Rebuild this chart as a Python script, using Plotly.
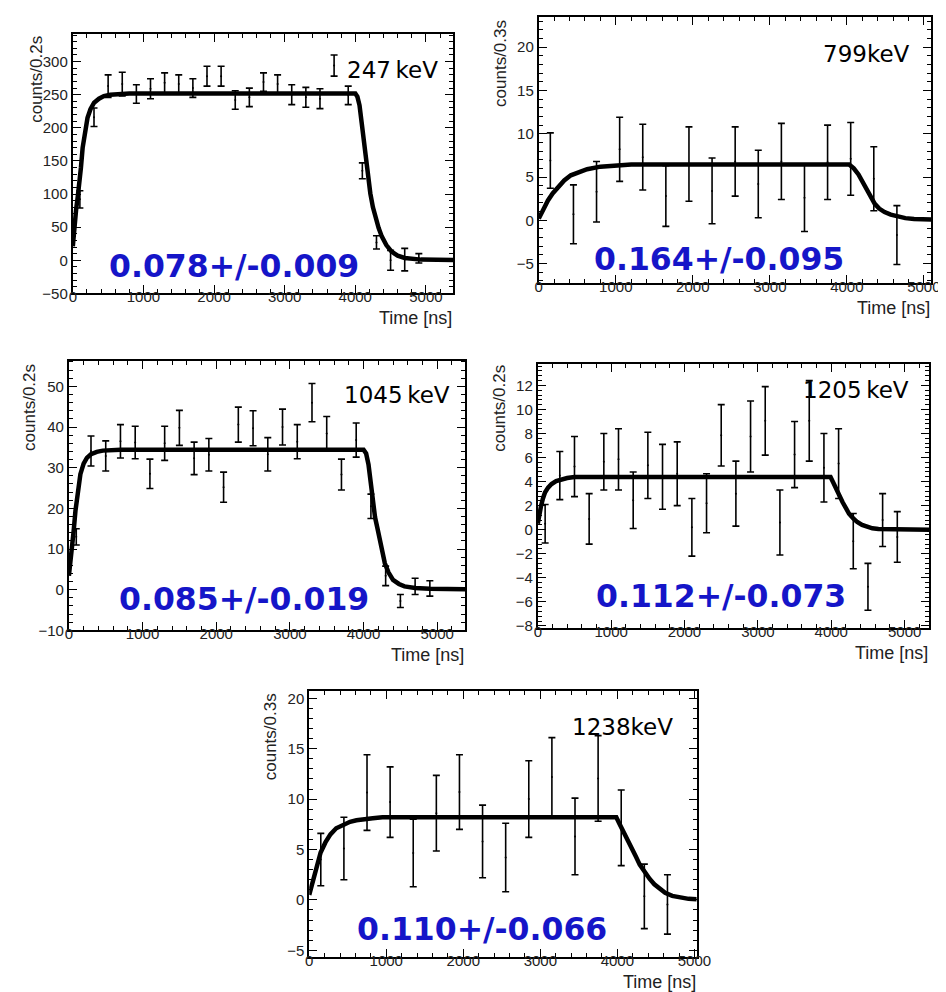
import plotly.graph_objects as go

W, H = 946, 992

# ---------------- data ----------------
# 247 keV
t247 = [100, 300, 500, 700, 900, 1100, 1300, 1500, 1700, 1900, 2100, 2300, 2500, 2700,
        2900, 3100, 3300, 3500, 3700, 3900, 4100, 4300, 4500, 4700, 4900]
c247 = [92, 216, 263, 266, 251, 259, 268, 266, 260, 278, 278, 242, 246, 269,
        266, 250, 246, 244, 294, 249, 135, 27, 0, 1, 3]
e247 = [13, 14, 17, 18, 14, 15, 15, 14, 14, 15, 15, 14, 14, 14,
        14, 15, 15, 15, 16, 14, 12, 10, 15, 17, 7]
fit247_t = [0, 15, 30, 46, 70, 93, 115, 139, 170, 208, 250, 301, 370, 440, 530, 625, 800, 995,
            4000, 4030, 4060, 4090, 4121, 4145, 4167, 4190, 4213, 4250, 4283, 4330, 4375,
            4440, 4514, 4600, 4700, 4800, 4931, 5390]
fit247_c = [21, 45, 62, 76, 96, 116, 140, 170, 196, 215, 228, 238, 244, 248, 250, 251, 252, 252,
            252, 247, 234, 208, 180, 160, 140, 120, 101, 80, 66, 49, 36,
            23, 13, 7, 3.5, 2, 1, 0.5]

# 799 keV
t799 = [150, 450, 750, 1050, 1350, 1650, 1950, 2250, 2550, 2850, 3150, 3450, 3750, 4050, 4350, 4650]
c799 = [6.9, 0.7, 3.3, 8.2, 7.3, 2.8, 6.5, 3.4, 6.8, 4.2, 6.8, 2.6, 6.7, 7.1, 4.8, -1.7]
e799 = [3.2, 3.4, 3.5, 3.7, 3.8, 3.5, 4.3, 3.8, 4.0, 3.9, 4.4, 3.9, 4.3, 4.2, 3.7, 3.4]
fit799_t = [0, 50, 119, 180, 246, 330, 416, 520, 628, 800, 968, 1200,
            4030, 4090, 4151, 4200, 4257, 4310, 4363, 4420, 4490, 4570, 4660, 4760, 4873, 5095]
fit799_c = [0.2, 1.2, 2.3, 3.1, 3.8, 4.6, 5.2, 5.6, 5.9, 6.2, 6.35, 6.45,
            6.45, 6.0, 5.3, 4.5, 3.6, 2.7, 1.9, 1.35, 0.95, 0.65, 0.4, 0.25, 0.15, 0.1]

# 1045 keV
t1045 = [100, 300, 500, 700, 900, 1100, 1300, 1500, 1700, 1900, 2100, 2300, 2500, 2700,
         2900, 3100, 3300, 3500, 3700, 3900, 4100, 4300, 4500, 4700, 4900]
c1045 = [13, 34.1, 32.9, 36.5, 36.2, 28.5, 36.0, 39.8, 32.3, 33.2, 25.2, 40.6, 39.7, 33.3,
         40.0, 36.4, 46.0, 38.4, 28.3, 36.8, 20.5, 3.4, -2.8, 0.8, 0.3]
e1045 = [2, 3.7, 3.7, 4.1, 4.0, 3.6, 4.2, 4.3, 4.0, 4.0, 3.7, 4.3, 4.3, 4.1,
         4.4, 4.2, 4.7, 4.2, 3.8, 4.2, 3.0, 2.4, 1.6, 2.0, 1.9]
fit1045_t = [0, 20, 44, 65, 89, 120, 156, 200, 244, 300, 378, 460, 556, 700,
             4000, 4035, 4067, 4090, 4111, 4135, 4156, 4190, 4222, 4255, 4289, 4340, 4400,
             4480, 4556, 4700, 4900, 5380]
fit1045_c = [3.4, 6.5, 9.7, 14.5, 19.4, 24.5, 28.4, 31.0, 32.4, 33.3, 33.9, 34.2, 34.3, 34.4,
             34.4, 33.5, 30.8, 27.0, 22.7, 20.0, 17.8, 15.0, 12.2, 9.2, 6.5, 4.2, 2.4,
             1.4, 0.8, 0.4, 0.2, 0.1]

# 1205 keV
t1205 = [100, 300, 500, 700, 900, 1100, 1300, 1500, 1700, 1900, 2100, 2300, 2500, 2700,
         2900, 3100, 3300, 3500, 3700, 3900, 4100, 4300, 4500, 4700, 4900]
c1205 = [0.5, 4.5, 5.25, 0.9, 5.65, 5.85, 2.45, 5.35, 4.4, 4.65, 0.2, 2.2, 7.85, 3.0,
         7.75, 9.05, 0.6, 6.25, 9.05, 5.15, 5.5, -0.95, -4.75, 0.8, -0.6]
e1205 = [1.6, 2.0, 2.5, 2.1, 2.35, 2.55, 2.35, 2.75, 2.7, 2.65, 2.4, 2.45, 2.55, 2.7,
         2.95, 2.85, 2.7, 2.75, 3.35, 2.85, 2.9, 2.3, 1.95, 2.2, 2.1]
fit1205_t = [0, 20, 45, 70, 98, 140, 187, 250, 321, 400, 500,
             3990, 4025, 4064, 4110, 4153, 4200, 4242, 4300, 4354, 4420, 4488, 4560, 4643, 5335]
fit1205_c = [0.5, 1.3, 2.0, 2.6, 3.1, 3.5, 3.8, 4.05, 4.2, 4.3, 4.38,
             4.38, 3.95, 3.4, 2.85, 2.3, 1.8, 1.33, 0.95, 0.64, 0.4, 0.22, 0.12, 0.06, 0.0]

# 1238 keV
t1238 = [150, 450, 750, 1050, 1350, 1650, 1950, 2250, 2550, 2850, 3150, 3450, 3750, 4050, 4350, 4650]
c1238 = [4.0, 5.1, 10.65, 9.7, 4.65, 8.6, 10.7, 5.8, 4.2, 10.0, 12.2, 6.3, 12.05, 7.15, 0.35, -0.45]
e1238 = [2.6, 3.1, 3.75, 3.5, 3.35, 3.75, 3.7, 3.6, 3.4, 3.8, 3.9, 3.8, 4.25, 3.75, 3.2, 2.95]
fit1238_t = [0, 30, 63, 100, 148, 210, 275, 350, 444, 530, 613, 720, 824, 950,
             3986, 4030, 4079, 4130, 4184, 4240, 4290, 4350, 4417, 4480, 4544, 4620, 4712, 4820, 4924, 5030]
fit1238_c = [0.5, 1.4, 2.2, 3.4, 4.7, 5.7, 6.5, 7.1, 7.5, 7.75, 7.9, 8.05, 8.1, 8.2,
             8.2, 7.5, 6.8, 6.0, 5.2, 4.3, 3.5, 2.8, 2.1, 1.55, 1.1, 0.7, 0.4, 0.22, 0.1, 0.07]

# labels
energy_labels = ["247\u2009keV", "799keV", "1045\u2009keV", "1205\u2009keV", "1238keV"]
ratio_labels = ["0.078+/-0.009", "0.164+/-0.095", "0.085+/-0.019", "0.112+/-0.073", "0.110+/-0.066"]
ytitles = ["counts/0.2s", "counts/0.3s", "counts/0.2s", "counts/0.2s", "counts/0.3s"]
xtitle = "Time [ns]"

# ---------------- layout geometry (pixels) ----------------
panels = [
    dict(t=t247, c=c247, e=e247, ft=fit247_t, fc=fit247_c,
         box=(62, 450, 25, 287), xr=[0, 5390], yr=[-50, 342], dy=50, my=10,
         lab=(388, 62), rat=(226, 259), yt=(25, 25)),
    dict(t=t799, c=c799, e=e799, ft=fit799_t, fc=fit799_c,
         box=(537, 937, 8, 277), xr=[0, 5095], yr=[-7.3, 23.5], dy=5, my=1,
         lab=(871, 45), rat=(721, 252), yt=(498, 9)),
    dict(t=t1045, c=c1045, e=e1045, ft=fit1045_t, fc=fit1045_c,
         box=(58, 462, 355, 627), xr=[0, 5380], yr=[-10, 56.3], dy=10, my=2,
         lab=(392, 390), rat=(236, 595), yt=(18, 356)),
    dict(t=t1205, c=c1205, e=e1205, ft=fit1205_t, fc=fit1205_c,
         box=(536, 935, 358, 625), xr=[0, 5335], yr=[-8.2, 13.8], dy=2, my=0.4,
         lab=(860, 384), rat=(723, 592), yt=(497, 357)),
    dict(t=t1238, c=c1238, e=e1238, ft=fit1238_t, fc=fit1238_c,
         box=(303, 698, 688, 957), xr=[0, 5030], yr=[-5.7, 20.75], dy=5, my=1,
         lab=(622, 725), rat=(479, 928), yt=(263, 688)),
]

def px(x):
    return x / W

def py(y):
    return 1 - y / H

fig = go.Figure()
annotations = []
tickfont = dict(family="Liberation Sans, Arial, sans-serif", size=15, color="#222")

for i, p in enumerate(panels):
    n = "" if i == 0 else str(i + 1)
    xa, ya = "x" + n, "y" + n
    fig.add_trace(go.Scatter(
        x=p["t"], y=p["c"], mode="markers", xaxis=xa, yaxis=ya,
        marker=dict(size=2, color="black"),
        error_y=dict(type="data", array=p["e"], visible=True, color="black",
                     thickness=1.6, width=3.5),
        showlegend=False, hoverinfo="x+y"))
    fig.add_trace(go.Scatter(
        x=p["ft"], y=p["fc"], mode="lines", xaxis=xa, yaxis=ya,
        line=dict(color="black", width=4.5), showlegend=False))

    x0, x1, y0, y1 = p["box"]
    axcommon = dict(showline=True, linecolor="black", linewidth=2, mirror="ticks",
                    ticks="inside", ticklen=8, tickwidth=1.3, tickcolor="black",
                    showgrid=False, zeroline=False, tickfont=tickfont)
    fig.update_layout(**{
        "xaxis" + n: dict(domain=[px(x0), px(x1)], range=p["xr"], anchor=ya,
                          dtick=1000, tick0=0, ticklabelstandoff=-11,
                          minor=dict(ticks="inside", ticklen=4, dtick=200, tick0=0,
                                     tickcolor="black", tickwidth=1.1, showgrid=False),
                          **axcommon),
        "yaxis" + n: dict(domain=[py(y1), py(y0)], range=p["yr"], anchor=xa,
                          dtick=p["dy"], tick0=0,
                          minor=dict(ticks="inside", ticklen=4, dtick=p["my"], tick0=0,
                                     tickcolor="black", tickwidth=1.1, showgrid=False),
                          **axcommon),
    })

    annotations.append(dict(text=energy_labels[i], x=px(p["lab"][0]), y=py(p["lab"][1]),
                            xref="paper", yref="paper", showarrow=False,
                            xanchor="center", yanchor="middle",
                            font=dict(family="DejaVu Sans", size=23, color="black")))
    annotations.append(dict(text="<b>" + ratio_labels[i] + "</b>",
                            x=px(p["rat"][0]), y=py(p["rat"][1]),
                            xref="paper", yref="paper", showarrow=False,
                            xanchor="center", yanchor="middle",
                            font=dict(family="DejaVu Sans", size=31.5, color="#1515c8")))
    annotations.append(dict(text=ytitles[i], x=px(p["yt"][0]), y=py(p["yt"][1]),
                            xref="paper", yref="paper", showarrow=False, textangle=-90,
                            xanchor="center", yanchor="top",
                            font=dict(family="Liberation Sans, Arial, sans-serif", size=17,
                                      color="#222")))
    annotations.append(dict(text=xtitle, x=px(x1 + 1), y=py(y1 + 25),
                            xref="paper", yref="paper", showarrow=False,
                            xanchor="right", yanchor="middle",
                            font=dict(family="Liberation Sans, Arial, sans-serif", size=18,
                                      color="#222")))

fig.update_layout(width=W, height=H, margin=dict(l=0, r=0, t=0, b=0),
                  paper_bgcolor="white", plot_bgcolor="white",
                  annotations=annotations)

fig.write_html("out.html")
